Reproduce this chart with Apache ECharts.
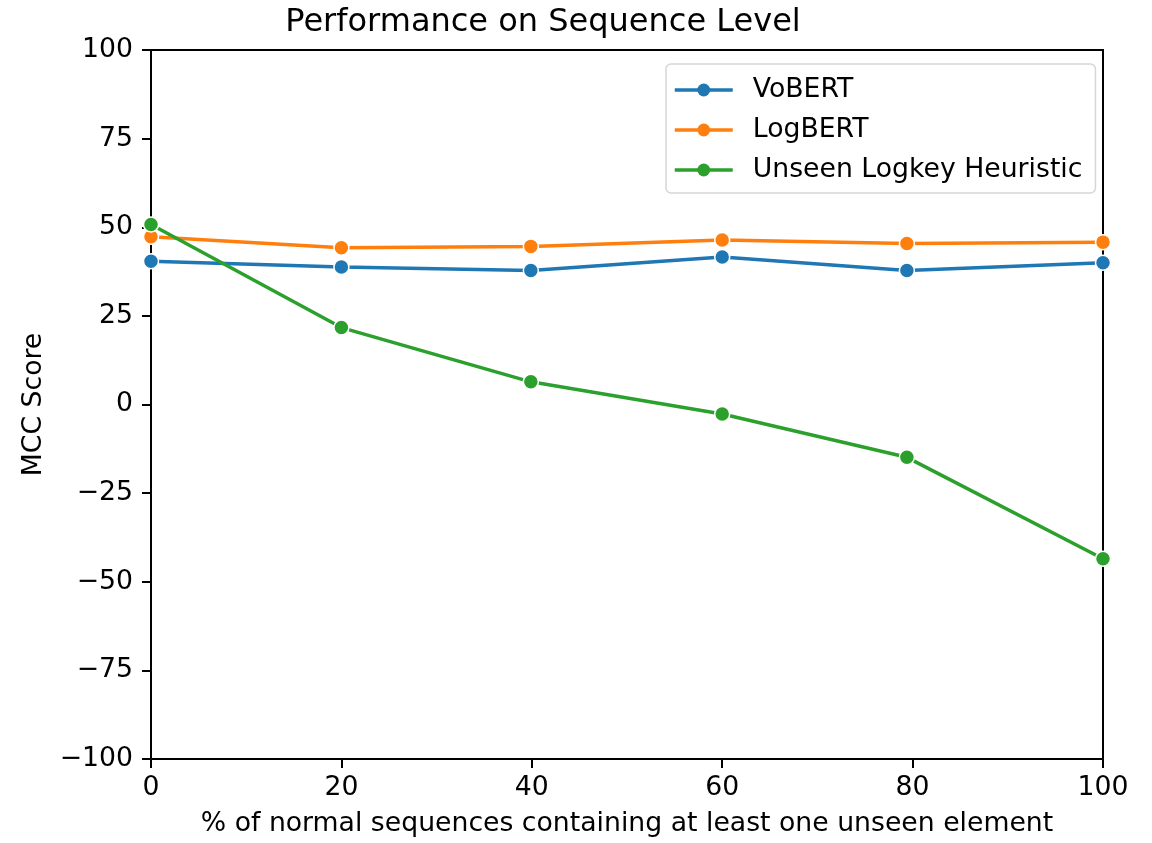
<!DOCTYPE html>
<html>
<head>
<meta charset="utf-8">
<script src="https://cdn.jsdelivr.net/npm/echarts@6/dist/echarts.min.js"></script>
<style>html,body{margin:0;padding:0;background:#fff;}#c{width:1152px;height:843px;}</style>
</head>
<body>
<div id="c"></div>
<script>
const xValues = [0, 20, 39.9, 60, 79.4, 100];
const voBERT = [40.4, 38.8, 37.8, 41.6, 37.8, 40.0];
const logBERT = [47.3, 44.2, 44.6, 46.4, 45.4, 45.8];
const heuristic = [50.8, 21.7, 6.4, -2.7, -14.9, -43.5];
const seriesNames = ['VoBERT', 'LogBERT', 'Unseen Logkey Heuristic'];
const colors = ['#1f77b4', '#ff7f0e', '#2ca02c'];
const yTicks = [-100, -75, -50, -25, 0, 25, 50, 75, 100];
const xTicks = [0, 20, 40, 60, 80, 100];

const font = 'DejaVu Sans';
const fs = 26.7;
function pairs(ys) { return xValues.map((x, i) => [x, ys[i]]); }
function mkSeries(name, ys, color) {
  return {
    name: name, type: 'line', data: pairs(ys),
    symbol: 'circle', symbolSize: 15,
    lineStyle: { color: color, width: 3.5 },
    itemStyle: { color: color, borderColor: '#fff', borderWidth: 1.5 },
    emphasis: { disabled: true },
    animation: false
  };
}
const chart = echarts.init(document.getElementById('c'), null, { renderer: 'canvas' });
chart.setOption({
  backgroundColor: '#fff',
  animation: false,
  title: {
    text: 'Performance on Sequence Level',
    left: 538, top: 2, textAlign: 'center',
    textStyle: { fontFamily: font, fontSize: 32, fontWeight: 'normal', color: '#000' }
  },
  grid: {
    left: 151, right: 49, top: 50, bottom: 82,
    show: true, borderColor: '#000', borderWidth: 2, containLabel: false
  },
  legend: {
    orient: 'vertical', left: 666, top: 64,
    padding: [11, 13, 8, 7],
    itemWidth: 58, itemHeight: 16, itemGap: 10,
    backgroundColor: 'rgba(255,255,255,0.8)',
    borderColor: '#d6d6d6', borderWidth: 1.5, borderRadius: 5,
    lineStyle: { width: 3.5 },
    itemStyle: { borderWidth: 0 },
    textStyle: { fontFamily: font, fontSize: fs, color: '#000', padding: [0, 0, 0, 15], lineHeight: 30 },
    data: seriesNames
  },
  xAxis: {
    type: 'value', min: 0, max: 100, interval: 20,
    axisLine: { onZero: false, lineStyle: { color: '#000', width: 2 } },
    axisTick: { show: true, length: 9, lineStyle: { color: '#000', width: 2 } },
    axisLabel: { fontFamily: font, fontSize: fs, color: '#000', margin: 16,
      customValues: xTicks },
    splitLine: { show: false },
    name: '% of normal sequences containing at least one unseen element',
    nameLocation: 'middle', nameGap: 52,
    nameTextStyle: { fontFamily: font, fontSize: fs, color: '#000' }
  },
  yAxis: {
    type: 'value', min: -100, max: 100, interval: 25,
    axisLine: { show: true, onZero: false, lineStyle: { color: '#000', width: 2 } },
    axisTick: { show: true, length: 9, lineStyle: { color: '#000', width: 2 } },
    axisLabel: { fontFamily: font, fontSize: fs, color: '#000', margin: 18,
      customValues: yTicks,
      formatter: v => (v < 0 ? '\u2212' + Math.abs(v) : String(v)) },
    splitLine: { show: false },
    name: 'MCC Score', nameLocation: 'middle', nameGap: 103, nameRotate: 90,
    nameTextStyle: { fontFamily: font, fontSize: fs, color: '#000' }
  },
  series: [
    mkSeries(seriesNames[0], voBERT, colors[0]),
    mkSeries(seriesNames[1], logBERT, colors[1]),
    mkSeries(seriesNames[2], heuristic, colors[2])
  ]
});
</script>
</body>
</html>
